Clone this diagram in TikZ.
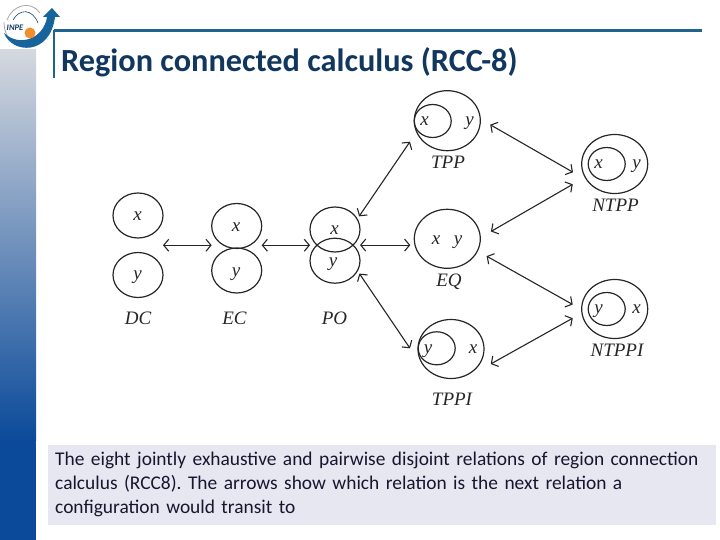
\documentclass[tikz,border=0pt]{standalone}
\usepackage{fontspec}
\setmainfont{Carlito}
\newfontfamily\mathfont{Liberation Serif}
\usetikzlibrary{arrows.meta,fit,shapes.geometric}
\definecolor{titleblue}{HTML}{12375F}
\definecolor{barblue}{HTML}{1F6391}
\definecolor{bandblue}{HTML}{0B4A9A}
\definecolor{bandgray}{HTML}{D5D8DF}
\definecolor{bandmid}{HTML}{6A83A8}
\definecolor{captiongray}{HTML}{E6E7F0}
\definecolor{captiontext}{HTML}{16162E}
\definecolor{swirlblue}{HTML}{17639C}
\definecolor{sunorange}{HTML}{F0902A}
\tikzset{
  region/.style={draw,ellipse,inner sep=0pt,outer sep=0pt,line width=1.2pt,draw=black!85,
    minimum width=2*\rx,minimum height=2*\ry},
  big region/.style={region,minimum width=66pt,minimum height=59pt},
  small region/.style={region,minimum width=37pt,minimum height=33pt},
  pair/.style={inner sep=0pt,outer sep=0pt,fill=none,draw=none},
  var/.style={font=\mathfont\itshape\fontsize{19}{19}\selectfont,inner sep=0pt,text=black!85,text height=8.5pt,text depth=0pt},
  relname/.style={font=\mathfont\itshape\fontsize{19}{19}\selectfont,inner sep=0pt,text=black!85},
  conn/.style={{Straight Barb[length=5pt,width=12pt]}-{Straight Barb[length=5pt,width=12pt]},line width=1.1pt,black!85}
}
\begin{document}
\begin{tikzpicture}[x=1pt,y=-1pt]
  \def\rx {25pt}
  \def\ry {22.5pt}
  \useasboundingbox (0,0) rectangle (720,540);

  \fill[top color=bandgray,middle color=bandmid,bottom color=bandblue] (0,50) rectangle (36,440);
  \fill[bandblue] (0,440) rectangle (36,540);

  \draw[gray!70,line width=0.8pt] (7,20) .. controls (12,6) and (30,-1) .. (40,13);
  \draw[swirlblue!70!black,line width=0.6pt] (13,20) .. controls (19,9) and (32,8) .. (38,23);
  \draw[gray!70,line width=0.8pt] (4,22) .. controls (4,32) and (8,38) .. (12,42);
  \fill[swirlblue] (4,33) .. controls (12,54) and (50,56) .. (55,17) -- (47,17) .. controls (44,38) and (20,48) .. cycle;
  \fill[swirlblue] (52,8) -- (60,17) -- (43,17) -- cycle;
  \fill[sunorange] (30,33) circle (5.5);
  \node (logo) at (15,27.5) [font=\bfseries\itshape\fontsize{8.5}{8.5}\selectfont,text=titleblue,inner sep=0pt] {INPE};

  \draw[barblue,line width=2.6pt] (54,30.5) -- (702,30.5);
  \draw[barblue,line width=1.6pt] (54,30) -- (54,78);
  \node (title) at (61,62) [anchor=west,inner sep=0pt,text=titleblue,font=\bfseries\fontsize{32.3}{32.3}\selectfont] {Region connected calculus (RCC-8)};

  \node (dcx) at (138,215.5) [region] {};
  \node (dcy) at (138,275) [region] {};
  \node (ecx) at (236.7,226) [region] {};
  \node (ecy) at (236.7,270.5) [region] {};
  \node (pox) at (335,229.5) [region] {};
  \node (poy) at (335,260.7) [region] {};
  \node (dc) [pair,fit=(dcx) (dcy)] {};
  \node (ec) [pair,fit=(ecx) (ecy)] {};
  \node (po) [pair,fit=(pox) (poy)] {};

  \node (tpp) at (447.3,120.7) [big region,minimum height=60pt] {};
  \node (tppin) at (432.7,121) [small region] {};
  \node (eq) at (447.3,238.8) [big region] {};
  \node (tppi) at (451,349) [big region] {};
  \node (tppiin) at (436.7,348.3) [small region] {};
  \node (ntpp) at (614.7,164) [big region] {};
  \node (ntppin) at (606.7,164) [small region] {};
  \node (ntppi) at (614.7,309) [big region] {};
  \node (ntppiin) at (606.7,309) [small region] {};

  \node (dcxl) at (137.5,216) [var] {x};
  \node (dcyl) at (137.5,275.5) [var] {y};
  \node (ecxl) at (236,227) [var] {x};
  \node (ecyl) at (236,272) [var] {y};
  \node (poxl) at (334.5,230) [var] {x};
  \node (poyl) at (333,262) [var] {y};
  \node (tppxl) at (424.5,121) [var] {x};
  \node (tppyl) at (469.5,121) [var] {y};
  \node (eqxl) at (436,240) [var] {x};
  \node (eqyl) at (458,240) [var] {y};
  \node (tppixl) at (473,349) [var] {x};
  \node (tppiyl) at (428,349) [var] {y};
  \node (ntppxl) at (598.5,164) [var] {x};
  \node (ntppyl) at (636.5,164) [var] {y};
  \node (ntppixl) at (636.5,309) [var] {x};
  \node (ntppiyl) at (598.5,309) [var] {y};

  \node (dcl) at (138,318) [relname] {DC};
  \node (ecl) at (234.5,318) [relname] {EC};
  \node (pol) at (334.5,318) [relname] {PO};
  \node (tppl) at (448,162) [relname] {TPP};
  \node (eql) at (449,282) [relname] {EQ};
  \node (tppil) at (452,399) [relname] {TPPI};
  \node (ntppl) at (615.5,205) [relname] {NTPP};
  \node (ntppil) at (617,350) [relname] {NTPPI};

  \coordinate (tppigapa) at (410,348.3);
  \coordinate (tppigapb) at (490.7,364);

  \draw[conn] (dc.east) -- (dc.east -| ec.west);
  \draw[conn] (ec.east |- dc.east) -- (po.west |- dc.east);
  \draw[conn,shorten >=4pt] (po.east) -- (po.east -| eq.west);
  \draw[conn,shorten <=3.4pt,shorten >=11.9pt] (pox.25) -- (tpp.200);
  \draw[conn,shorten <=3.5pt] (poy.-24) -- (tppigapa);
  \draw[conn,shorten <=11.5pt,shorten >=16.5pt] (tpp.3) -- (ntpp.211);
  \draw[conn,shorten <=12.3pt,shorten >=14.3pt] (eq.2) -- (ntpp.204);
  \draw[conn,shorten <=10.6pt,shorten >=10.3pt] (eq.-22) -- (ntppi.181);
  \draw[conn,shorten >=10.6pt] (tppigapb) -- (ntppi.187);

  \node (caption) at (48,444.5) [anchor=north west,fill=captiongray,text width=654pt,inner xsep=7pt,inner ysep=0pt,minimum height=80pt,align=left,text=captiontext,font=\fontsize{19.4}{24}\selectfont] {\frenchspacing The eight jointly exhaustive and pairwise disjoint relations of region connection\\calculus (RCC8). The arrows show which relation is the next relation a\\configuration would transit to};
\end{tikzpicture}
\end{document}
